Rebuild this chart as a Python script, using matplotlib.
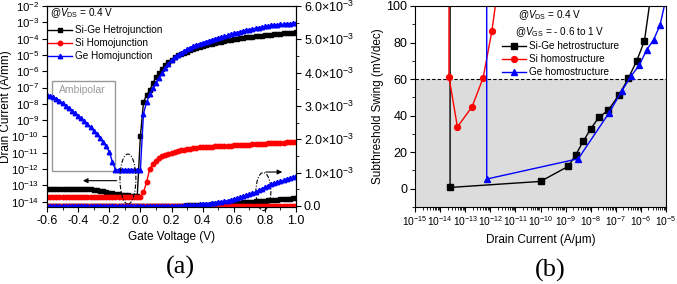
import numpy as np
import matplotlib
matplotlib.use("Agg")
import matplotlib.pyplot as plt
from matplotlib.patches import Ellipse, Rectangle
from matplotlib.ticker import LogLocator, FuncFormatter, MultipleLocator, NullFormatter

plt.rcParams['font.family'] = ['Liberation Sans', 'DejaVu Sans']
plt.rcParams['mathtext.fontset'] = 'custom'
plt.rcParams['mathtext.rm'] = 'Liberation Sans'
plt.rcParams['mathtext.it'] = 'Liberation Sans:italic'
plt.rcParams['axes.unicode_minus'] = False

# ------------------ DATA (a): Id-Vg, log10 of current ------------------ #
vg = np.linspace(-0.6, 1.0, 81)  # gate sweep, 0.02 V step

black_log = [-13.25, -13.24, -13.23, -13.22, -13.21, -13.20, -13.20, -13.20, -13.20, -13.20,
             -13.20, -13.21, -13.22, -13.23, -13.25, -13.27,
             -13.30, -13.33, -13.37, -13.41, -13.45, -13.49, -13.52, -13.55, -13.58, -13.60,
             -13.62, -13.63, -13.64, -13.64,
             -10.00,
             -7.90, -7.45, -7.17, -6.75, -6.35, -6.10, -5.85, -5.62, -5.45, -5.30,
             -5.15, -5.03, -4.96, -4.88, -4.80, -4.72, -4.65, -4.58, -4.51, -4.46,
             -4.41, -4.36, -4.31, -4.27, -4.23, -4.19, -4.15, -4.11, -4.08, -4.05,
             -4.02, -3.99, -3.96, -3.93, -3.90, -3.88, -3.86, -3.83, -3.81, -3.79,
             -3.77, -3.75, -3.73, -3.71, -3.70, -3.68, -3.66, -3.65, -3.63, -3.62]

red_log = [-13.73] * 31 + [
           -13.43, -12.80, -12.00, -11.70, -11.50, -11.30, -11.20, -11.12, -11.05, -10.99,
           -10.94, -10.89, -10.85, -10.81, -10.78, -10.75, -10.72, -10.70, -10.67, -10.65,
           -10.64, -10.63, -10.62, -10.61, -10.60, -10.59, -10.58, -10.57, -10.56, -10.55,
           -10.54, -10.53, -10.52, -10.51, -10.50, -10.48, -10.47, -10.46, -10.45, -10.44,
           -10.43, -10.42, -10.41, -10.40, -10.39, -10.38, -10.37, -10.36, -10.36, -10.35]

blue_log = [-7.45, -7.52, -7.60, -7.68, -7.80, -7.95, -8.12, -8.27, -8.42, -8.57,
            -8.73, -8.90, -9.07, -9.25, -9.45, -9.65, -9.85, -10.08, -10.33, -10.60,
            -10.95, -11.55, -12.05] + [-12.05] * 8 + [
            -8.60, -7.90, -7.40, -7.05, -6.70, -6.40, -6.10, -5.80, -5.55, -5.30,
            -5.12, -4.98, -4.87, -4.76, -4.65, -4.55, -4.46, -4.38, -4.31, -4.25,
            -4.19, -4.13, -4.07, -4.01, -3.95, -3.90, -3.85, -3.80, -3.74, -3.68,
            -3.63, -3.58, -3.53, -3.49, -3.45, -3.41, -3.37, -3.33, -3.29, -3.25,
            -3.22, -3.19, -3.17, -3.15, -3.13, -3.11, -3.09, -3.08, -3.06, -3.05]

labels_a = ["Si-Ge Hetrojunction", "Si Homojunction", "Ge Homojunction"]

# ------------------ DATA (b): SS vs Id ------------------ #
black_id = [2.5e-14, 2.5e-14, 1.0e-10, 1.29e-9, 2.57e-9, 5.1e-9, 1.02e-8, 2.1e-8, 5.0e-8,
            1.35e-7, 3.16e-7, 6.8e-7, 1.38e-6, 2.5e-6]
black_ss = [150, 0.7, 4.0, 12.3, 18.7, 26.1, 32.9, 39.0, 43.0, 51.4, 60.4, 70.0, 80.8, 106]

red_id = [2.3e-14, 2.25e-14, 4.9e-14, 1.9e-13, 5.2e-13, 1.15e-12, 2.0e-12]
red_ss = [200, 61.3, 33.8, 45.0, 60.8, 86.1, 110]

blue_id = [7.2e-13, 7.2e-13, 3.2e-9, 5.5e-8, 1.7e-7, 4.0e-7, 8.7e-7, 1.7e-6, 3.2e-6, 5.75e-6, 1.1e-5]
blue_ss = [200, 5.3, 16.4, 41.7, 53.3, 61.5, 67.8, 76.0, 81.5, 89.4, 106.6]

labels_b = ["Si-Ge hetrostructure", "Si homostructure", "Ge homostructure"]

colors = ["black", "red", "blue"]
markers = ["s", "o", "^"]

TICK = 9
LAB = 8.5
LEG = 7.2

fig = plt.figure(figsize=(6.77, 2.84), dpi=100)

# ------------------ PANEL (a) ------------------ #
ax1 = fig.add_axes([47 / 677, 1 - 207 / 284, 249 / 677, 201 / 284])
ax1r = ax1.twinx()

curr = [10.0 ** np.array(black_log), 10.0 ** np.array(red_log), 10.0 ** np.array(blue_log)]
for y, c, m, lab in zip(curr, colors, markers, labels_a):
    ax1.plot(vg, y, color=c, marker=m, ms=3.2, lw=1, label=lab)
    ax1r.plot(vg, y, color=c, marker=m, ms=3.2, lw=1)

ax1.set_yscale("log")
ax1.set_ylim(10 ** -14.33, 1e-2)
ax1.set_xlim(-0.6, 1.0)
ax1.yaxis.set_major_locator(LogLocator(base=10, numticks=20))
ax1.yaxis.set_minor_locator(LogLocator(base=10, subs=[], numticks=20))
ax1.xaxis.set_major_locator(MultipleLocator(0.2))
ax1.xaxis.set_minor_locator(MultipleLocator(0.1))
ax1.xaxis.set_major_formatter(FuncFormatter(lambda v, p: f"{v:.1f}"))

ax1r.set_ylim(-0.03e-3, 6e-3)
ax1r.yaxis.set_major_locator(MultipleLocator(1e-3))
ax1r.yaxis.set_minor_locator(MultipleLocator(0.5e-3))
ax1r.yaxis.set_major_formatter(FuncFormatter(
    lambda v, p: "0.0" if abs(v) < 1e-9 else f"{v * 1e3:.1f}×10$^{{-3}}$"))

for a in (ax1, ax1r):
    a.tick_params(which="both", direction="out", labelsize=TICK, pad=2)
    a.tick_params(which="major", length=3.5)
    a.tick_params(which="minor", length=2)
ax1.tick_params(axis="y", labelsize=8.2)

ax1.set_xlabel("Gate Voltage (V)", fontsize=LAB, labelpad=3)
ax1.set_ylabel("Drain Current (A/mm)", fontsize=LAB)
ax1.yaxis.set_label_coords(-0.142, 0.5)

ax1.text(0.012, 0.964, r"@$V_{\mathrm{DS}}$ = 0.4 V", transform=ax1.transAxes,
         fontsize=LEG, va="center", ha="left")
ax1.legend(loc="upper left", bbox_to_anchor=(0.005, 0.905), frameon=False, fontsize=LEG,
           handlelength=2.4, handletextpad=0.3, labelspacing=0.3, borderpad=0,
           borderaxespad=0, numpoints=1)

# ambipolar box, ellipses and arrows
ax1.add_patch(Rectangle((0.019, 0.181), 0.254, 0.446, transform=ax1.transAxes,
                        fill=False, edgecolor="#999999", lw=1))
ax1.text(0.143, 0.582, "Ambipolar", transform=ax1.transAxes, fontsize=7.5,
         color="#999999", ha="center", va="center")
ax1.add_patch(Ellipse((0.325, 0.139), 0.064, 0.249, transform=ax1.transAxes, fill=False,
                      edgecolor="k", lw=0.8, ls=(0, (4, 1.5, 1, 1.5)), zorder=5))
ax1.add_patch(Ellipse((0.869, 0.077), 0.060, 0.189, transform=ax1.transAxes, fill=False,
                      edgecolor="k", lw=0.8, ls=(0, (4, 1.5, 1, 1.5)), zorder=5,
                      clip_on=False))
ax1.annotate("", xy=(0.133, 0.131), xytext=(0.291, 0.131), xycoords="axes fraction",
             arrowprops=dict(arrowstyle="-|>", color="k", lw=0.8, mutation_scale=7))
ax1.annotate("", xy=(0.956, 0.174), xytext=(0.868, 0.174), xycoords="axes fraction",
             arrowprops=dict(arrowstyle="-|>", color="k", lw=0.8, mutation_scale=7))

# ------------------ PANEL (b) ------------------ #
ax2 = fig.add_axes([415 / 677, 1 - 207 / 284, 251 / 677, 201 / 284])
ax2.axhspan(-10, 60, color="#dcdcdc", zorder=0, lw=0)
ax2.axhline(60, color="k", ls=(0, (3, 2)), lw=0.8, zorder=1)

for x, y, c, m, lab in zip([black_id, red_id, blue_id], [black_ss, red_ss, blue_ss],
                           colors, markers, labels_b):
    ax2.plot(x, y, color=c, marker=m, ms=4.2, lw=1, label=lab)

ax2.set_xscale("log")
ax2.set_xlim(1e-15, 1e-5)
ax2.set_ylim(-10, 100)
ax2.xaxis.set_major_locator(LogLocator(base=10, numticks=20))
ax2.xaxis.set_minor_locator(LogLocator(base=10, subs=np.arange(2, 10), numticks=20))
ax2.xaxis.set_minor_formatter(NullFormatter())
ax2.yaxis.set_major_locator(MultipleLocator(20))
ax2.yaxis.set_minor_locator(MultipleLocator(10))
ax2.tick_params(which="both", direction="out", labelsize=TICK, pad=2)
ax2.tick_params(axis="x", labelsize=7.4)
ax2.tick_params(which="major", length=3.5)
ax2.tick_params(which="minor", length=2)

ax2.set_xlabel("Drain Current (A/μm)", fontsize=LAB, labelpad=4)
ax2.set_ylabel("Subthreshold Swing (mV/dec)", fontsize=LAB, labelpad=2)

ax2.text(0.41, 0.955, r"@$V_{\mathrm{DS}}$ = 0.4 V", transform=ax2.transAxes,
         fontsize=LEG, va="center", ha="left")
ax2.text(0.40, 0.872, r"@$V_{\mathrm{GS}}$ = - 0.6 to 1 V", transform=ax2.transAxes,
         fontsize=LEG, va="center", ha="left")
ax2.legend(loc="upper left", bbox_to_anchor=(0.345, 0.825), frameon=False, fontsize=LEG,
           handlelength=2.4, handletextpad=0.3, labelspacing=0.3, borderpad=0,
           borderaxespad=0, numpoints=1)

# panel tags
fig.text(180 / 677, 1 - 267 / 284, "(a)", family="Liberation Serif", fontsize=19,
         ha="center", va="center")
fig.text(550 / 677, 1 - 270 / 284, "(b)", family="Liberation Serif", fontsize=19,
         ha="center", va="center")

fig.savefig("out.png", dpi=100)
